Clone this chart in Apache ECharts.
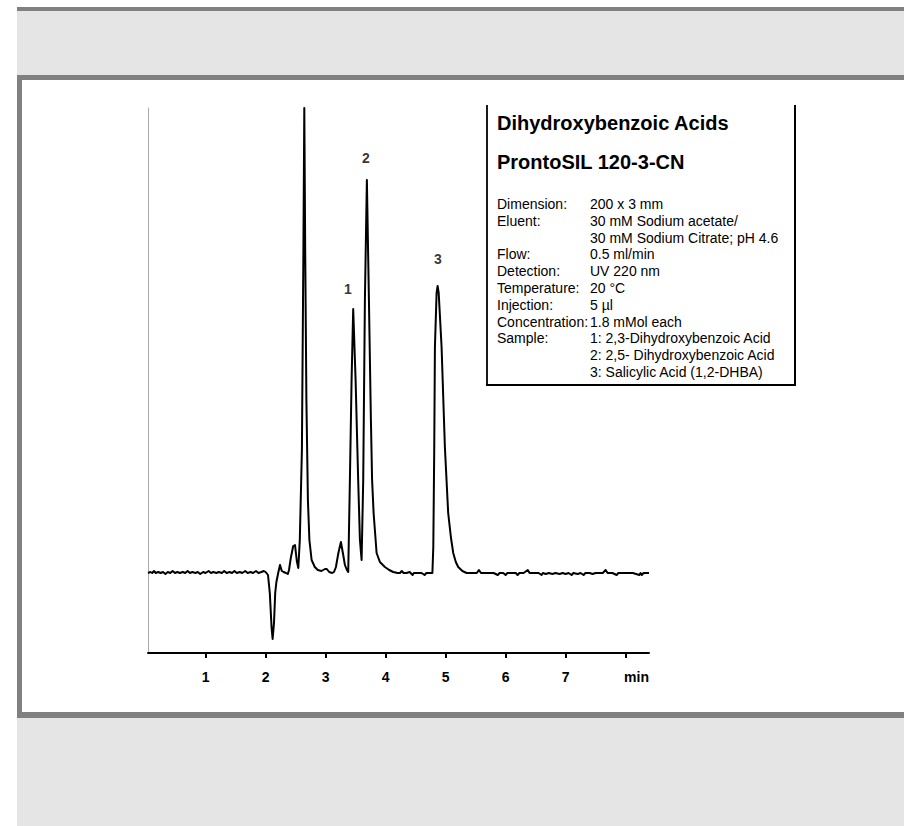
<!DOCTYPE html>
<html>
<head>
<meta charset="utf-8">
<script src="https://cdn.jsdelivr.net/npm/echarts@6/dist/echarts.min.js"></script>
<style>
  html, body { margin: 0; padding: 0; background: #ffffff; width: 904px; height: 826px; overflow: hidden; }
  .abs { position: absolute; }
  #chart { position: absolute; left: 0; top: 0; width: 904px; height: 826px; }
</style>
</head>
<body>
<div class="abs" style="left:17px;top:7px;width:887px;height:4px;background:#808080;"></div>
<div class="abs" style="left:17px;top:11px;width:887px;height:64px;background:#e5e5e5;"></div>
<div class="abs" style="left:17px;top:75px;width:887px;height:5px;background:#808080;"></div>
<div class="abs" style="left:17px;top:80px;width:5px;height:632px;background:#808080;"></div>
<div class="abs" style="left:17px;top:712px;width:887px;height:6px;background:#808080;"></div>
<div class="abs" style="left:17px;top:718px;width:887px;height:108px;background:#e5e5e5;"></div>
<div id="chart"></div>
<script>
// Retention time (min)
const times = [
  0.04,0.08,0.11,0.14,0.17,0.21,0.25,0.29,0.33,0.37,0.41,0.45,0.49,0.53,0.57,0.62,0.66,0.70,0.74,0.78,
  0.83,0.87,0.91,0.96,1.00,1.05,1.09,1.13,1.18,1.22,1.27,1.31,1.35,1.40,1.44,1.48,1.52,1.57,1.61,1.66,
  1.70,1.75,1.79,1.84,1.88,1.93,1.97,2.00,2.04,2.07,2.10,2.117,2.14,2.16,2.18,2.21,2.24,2.27,2.30,2.34,
  2.37,2.39,2.42,2.46,2.49,2.52,2.545,2.57,2.605,2.63,2.645,2.66,2.68,2.705,2.73,2.767,2.82,2.87,2.93,2.99,
  3.02,3.06,3.11,3.14,3.172,3.213,3.255,3.288,3.322,3.355,3.377,3.405,3.433,3.46,3.50,3.543,3.572,3.60,3.627,3.655,
  3.688,3.722,3.755,3.775,3.80,3.85,3.905,3.988,4.06,4.127,4.20,4.24,4.27,4.30,4.35,4.40,4.45,4.47,4.53,4.60,
  4.65,4.68,4.74,4.78,4.795,4.81,4.822,4.85,4.867,4.885,4.933,4.988,5.043,5.09,5.127,5.17,5.21,5.28,5.35,5.40,
  5.45,5.52,5.555,5.59,5.65,5.72,5.80,5.87,5.90,5.96,6.00,6.03,6.10,6.17,6.20,6.23,6.30,6.37,6.40,6.47,
  6.55,6.60,6.62,6.67,6.72,6.78,6.83,6.90,6.95,7.00,7.05,7.10,7.13,7.20,7.25,7.30,7.33,7.40,7.45,7.50,
  7.57,7.62,7.667,7.70,7.78,7.85,7.88,7.95,8.05,8.12,8.23,8.25,8.27,8.30,8.39
];
// Detector signal (arbitrary units, baseline = 0)
const signal = [
  0,1,0,2,0,1,0,1,-1,1,0,2,0,1,0,1,0,2,0,1,
  0,1,-1,1,0,2,0,1,0,1,0,2,0,1,0,2,0,1,0,2,
  0,1,0,2,0,1,2,1,-2,-20,-55,-66,-50,-20,-9,0,8,2,1,0,
  -1,3,15,27,28,12,5,33,123,323,465,323,173,73,33,13,6,3,2,4,
  4,1,0,1,6,20,31,20,8,3,1,93,193,264,193,93,33,13,93,273,
  393,273,153,93,60,20,11,6,3,1,0,0,2,0,0,1,-2,0,0,0,
  -2,0,0,0,26,120,226,280,287,280,226,126,60,35,20,11,6,2,0,0,
  0,0,3,0,0,0,0,-2,0,0,-2,0,0,0,-2,0,0,3,0,0,
  0,-2,0,-1,0,-1,0,-1,0,-1,0,-2,0,-1,0,-2,0,0,-1,0,
  0,0,3,0,0,-2,0,0,0,0,-2,0,-2,0,0
];
// Peak annotations
const peakNames = ['1', '2', '3'];
const peakTimes = [3.37, 3.67, 4.87];
const peakLabelLevels = [284, 415, 314];
// Axis ticks
const tickValues = [1, 2, 3, 4, 5, 6, 7, 8];
const tickLabelValues = [1, 2, 3, 4, 5, 6, 7];
// Method info
const titleLines = ['Dihydroxybenzoic Acids', 'ProntoSIL 120-3-CN'];
const infoKeys = ['Dimension:', 'Eluent:', '', 'Flow:', 'Detection:', 'Temperature:', 'Injection:', 'Concentration:', 'Sample:', '', ''];
const infoValues = ['200 x 3 mm', '30 mM Sodium acetate/', '30 mM Sodium Citrate; pH 4.6', '0.5 ml/min', 'UV 220 nm', '20 °C', '5 µl', '1.8 mMol each', '1: 2,3-Dihydroxybenzoic Acid', '2: 2,5- Dihydroxybenzoic Acid', '3: Salicylic Acid (1,2-DHBA)'];

const FONT = '"Liberation Sans", Arial, Helvetica, sans-serif';
const traceData = times.map((t, i) => [t, signal[i]]);
const labelData = peakNames.map((n, i) => ({ name: n, value: [peakTimes[i], peakLabelLevels[i]] }));

const graphics = [];
// box: left, right, bottom borders
graphics.push({ type: 'line', shape: { x1: 487, y1: 105, x2: 487, y2: 385 }, style: { stroke: '#000', lineWidth: 1.8 } });
graphics.push({ type: 'line', shape: { x1: 795, y1: 105, x2: 795, y2: 385 }, style: { stroke: '#000', lineWidth: 2 } });
graphics.push({ type: 'line', shape: { x1: 486, y1: 385, x2: 796, y2: 385 }, style: { stroke: '#000', lineWidth: 2 } });
const titleY = [123, 162];
titleLines.forEach((s, i) => {
  graphics.push({ type: 'text', x: 497, y: titleY[i], style: { text: s, font: 'bold 20px ' + FONT, fill: '#000', verticalAlign: 'middle', align: 'left' } });
});
const lineStart = 204, lineStep = 16.8;
infoKeys.forEach((k, i) => {
  const y = lineStart + i * lineStep;
  if (k) graphics.push({ type: 'text', x: 497, y: y, style: { text: k, font: '14px ' + FONT, fill: '#000', verticalAlign: 'middle', align: 'left' } });
  graphics.push({ type: 'text', x: 590, y: y, style: { text: infoValues[i], font: '14px ' + FONT, fill: '#000', verticalAlign: 'middle', align: 'left' } });
});

const chart = echarts.init(document.getElementById('chart'), null, { renderer: 'svg', width: 904, height: 826 });
chart.setOption({
  backgroundColor: 'transparent',
  animation: false,
  grid: { left: 148, right: 255, top: 108, bottom: 173, containLabel: false },
  xAxis: {
    type: 'value', min: 0.04, max: 8.39,
    name: 'min', nameLocation: 'end', nameGap: 0,
    nameTextStyle: { fontFamily: FONT, fontWeight: 'bold', fontSize: 14, color: '#000', align: 'right', verticalAlign: 'top', padding: [17, 0, 0, 0] },
    axisLine: { show: true, onZero: false, lineStyle: { color: '#000', width: 2 } },
    axisTick: { show: true, inside: false, length: 5, customValues: tickValues, lineStyle: { color: '#000', width: 2 } },
    axisLabel: { show: true, customValues: tickLabelValues, margin: 17, fontFamily: FONT, fontWeight: 'bold', fontSize: 14, color: '#000' },
    splitLine: { show: false }
  },
  yAxis: {
    type: 'value', min: -80, max: 465,
    axisLine: { show: true, lineStyle: { color: '#aaaaaa', width: 1 } },
    axisTick: { show: false },
    axisLabel: { show: false },
    splitLine: { show: false }
  },
  series: [
    {
      type: 'line', data: traceData, symbol: 'none', clip: true,
      lineStyle: { color: '#000', width: 2, join: 'round' }
    },
    {
      type: 'scatter', data: labelData, symbolSize: 0.1, silent: true,
      itemStyle: { color: '#000' },
      label: { show: true, position: 'inside', formatter: '{b}', fontFamily: FONT, fontWeight: 'bold', fontSize: 14, color: '#000', textBorderWidth: 0 }
    }
  ],
  graphic: graphics
});
</script>
</body>
</html>
